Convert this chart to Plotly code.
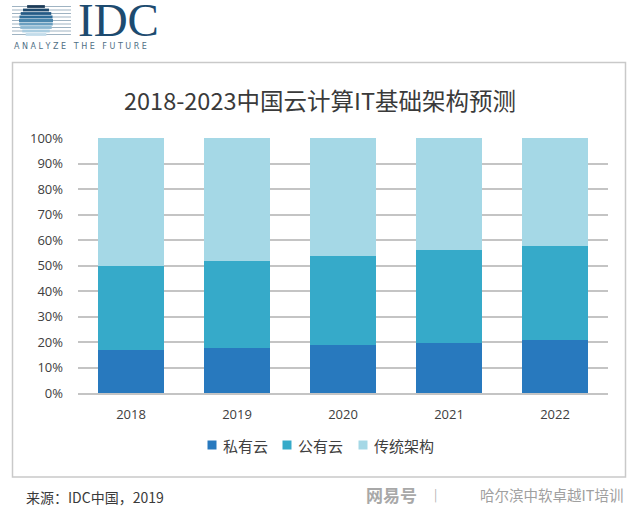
import math
import plotly.graph_objects as go

years = ["2018", "2019", "2020", "2021", "2022"]
private_cloud = [17.0, 17.7, 18.9, 19.8, 20.8]
public_cloud = [33.0, 34.2, 35.0, 36.1, 36.7]
traditional = [50.0, 48.1, 46.1, 44.1, 42.5]
series_names = ["私有云", "公有云", "传统架构"]
series_colors = ["#2879BE", "#36AAC9", "#A5D8E6"]
y_ticks = [0, 10, 20, 30, 40, 50, 60, 70, 80, 90, 100]
y_tick_labels = [f"{v}%" for v in y_ticks]

W_PX, H_PX = 640, 515
L, R, T, B = 78, 608, 138, 393


def px(x):
    return (x - L) / (R - L)


def py(y):
    return (B - y) / (B - T)


fig = go.Figure()
for name, vals, col in zip(series_names, [private_cloud, public_cloud, traditional], series_colors):
    fig.add_trace(go.Bar(x=years, y=vals, name=name, marker=dict(color=col, line=dict(width=0))))

shapes = []
# outer border box
shapes.append(dict(type="rect", xref="paper", yref="paper", x0=px(12.5), x1=px(625.5), y0=py(477), y1=py(62.5),
                   line=dict(color="#c9c9c9", width=1.5), fillcolor="rgba(0,0,0,0)", layer="below"))

# IDC logo: striped globe
cx, cy, r = 36, 21, 17
stripe_ys = [6.5, 10, 13.5, 17, 20.5, 24, 27.5, 31, 34.5]
stripe_cols = ["#1b3a57", "#1f4a6e", "#245a85", "#2e6d99", "#4a86ad", "#6a9fc0", "#8cb8d2", "#aacde0", "#c2dcea"]
for yy, col in zip(stripe_ys, stripe_cols):
    shapes.append(dict(type="line", xref="paper", yref="paper", x0=px(12), x1=px(71), y0=py(yy), y1=py(yy),
                       line=dict(color="#9fb3c2", width=1)))
    d = yy - cy
    if abs(d) < r:
        hw = math.sqrt(r * r - d * d)
        shapes.append(dict(type="line", xref="paper", yref="paper", x0=px(cx - hw), x1=px(cx + hw),
                           y0=py(yy), y1=py(yy), line=dict(color=col, width=2.8)))

annotations = [
    dict(text="IDC", x=px(76), y=py(20), xref="paper", yref="paper", xanchor="left", yanchor="middle",
         showarrow=False, font=dict(family="Liberation Serif", size=47, color="#1d4b70")),
    dict(text="A N A L Y Z E   T H E   F U T U R E", x=px(12), y=py(47), xref="paper", yref="paper",
         xanchor="left", yanchor="middle", showarrow=False,
         font=dict(family="DejaVu Sans", size=8, color="#4f6f85")),
    dict(text="2018-2023中国云计算IT基础架构预测", x=px(320), y=py(100), xref="paper", yref="paper",
         xanchor="center", yanchor="middle", showarrow=False,
         font=dict(family="Noto Sans CJK SC", size=23.5, color="#3a3a3a")),
    dict(text="来源：IDC中国，2019", x=px(24), y=py(497), xref="paper", yref="paper",
         xanchor="left", yanchor="middle", showarrow=False,
         font=dict(family="Noto Sans CJK SC", size=14, color="#3a3a3a")),
    dict(text="<b>网易号</b>", x=px(364), y=py(494), xref="paper", yref="paper",
         xanchor="left", yanchor="middle", showarrow=False,
         font=dict(family="Noto Sans CJK SC", size=17, color="#a8a8a8")),
    dict(text="|", x=px(435), y=py(494), xref="paper", yref="paper",
         xanchor="center", yanchor="middle", showarrow=False,
         font=dict(family="Noto Sans CJK SC", size=12, color="#b0b0b0")),
    dict(text="哈尔滨中软卓越IT培训", x=px(625), y=py(494), xref="paper", yref="paper",
         xanchor="right", yanchor="middle", showarrow=False,
         font=dict(family="Noto Sans CJK SC", size=14.5, color="#a0a0a0")),
]

# manual legend (squares + labels)
legend_x = [212, 287, 363]
legend_y = 445
for name, col, lx in zip(series_names, series_colors, legend_x):
    shapes.append(dict(type="rect", xref="paper", yref="paper", x0=px(lx - 4.5), x1=px(lx + 4.5),
                       y0=py(legend_y + 4.5), y1=py(legend_y - 4.5), fillcolor=col, line=dict(width=0)))
    annotations.append(dict(text=name, x=px(lx + 9), y=py(legend_y), xref="paper", yref="paper",
                            xanchor="left", yanchor="middle", showarrow=False,
                            font=dict(family="Noto Sans CJK SC", size=15, color="#404040")))

fig.update_layout(
    width=W_PX, height=H_PX,
    margin=dict(l=L, r=W_PX - R, t=T, b=H_PX - B, pad=0, autoexpand=False),
    barmode="stack",
    bargap=0.37,
    paper_bgcolor="white",
    plot_bgcolor="white",
    font=dict(family="Noto Sans CJK SC", color="#404040"),
    showlegend=False,
    shapes=shapes,
    annotations=annotations,
)
fig.update_yaxes(range=[0, 100], tickvals=y_ticks, ticktext=y_tick_labels, showgrid=True,
                 gridcolor="#c4c4c4", gridwidth=1.5, zeroline=False, showline=False,
                 ticks="", ticklabelstandoff=14, tickfont=dict(family="Open Sans", size=13, color="#404040"))
fig.update_xaxes(showgrid=False, showline=True, linecolor="#c4c4c4", linewidth=1.5, ticks="",
                 ticklabelstandoff=9, tickfont=dict(family="Open Sans", size=13, color="#404040"))

fig.write_html("out.html", config={"displayModeBar": False},
               post_script="document.body.style.margin='0px';document.body.style.overflow='hidden';")
